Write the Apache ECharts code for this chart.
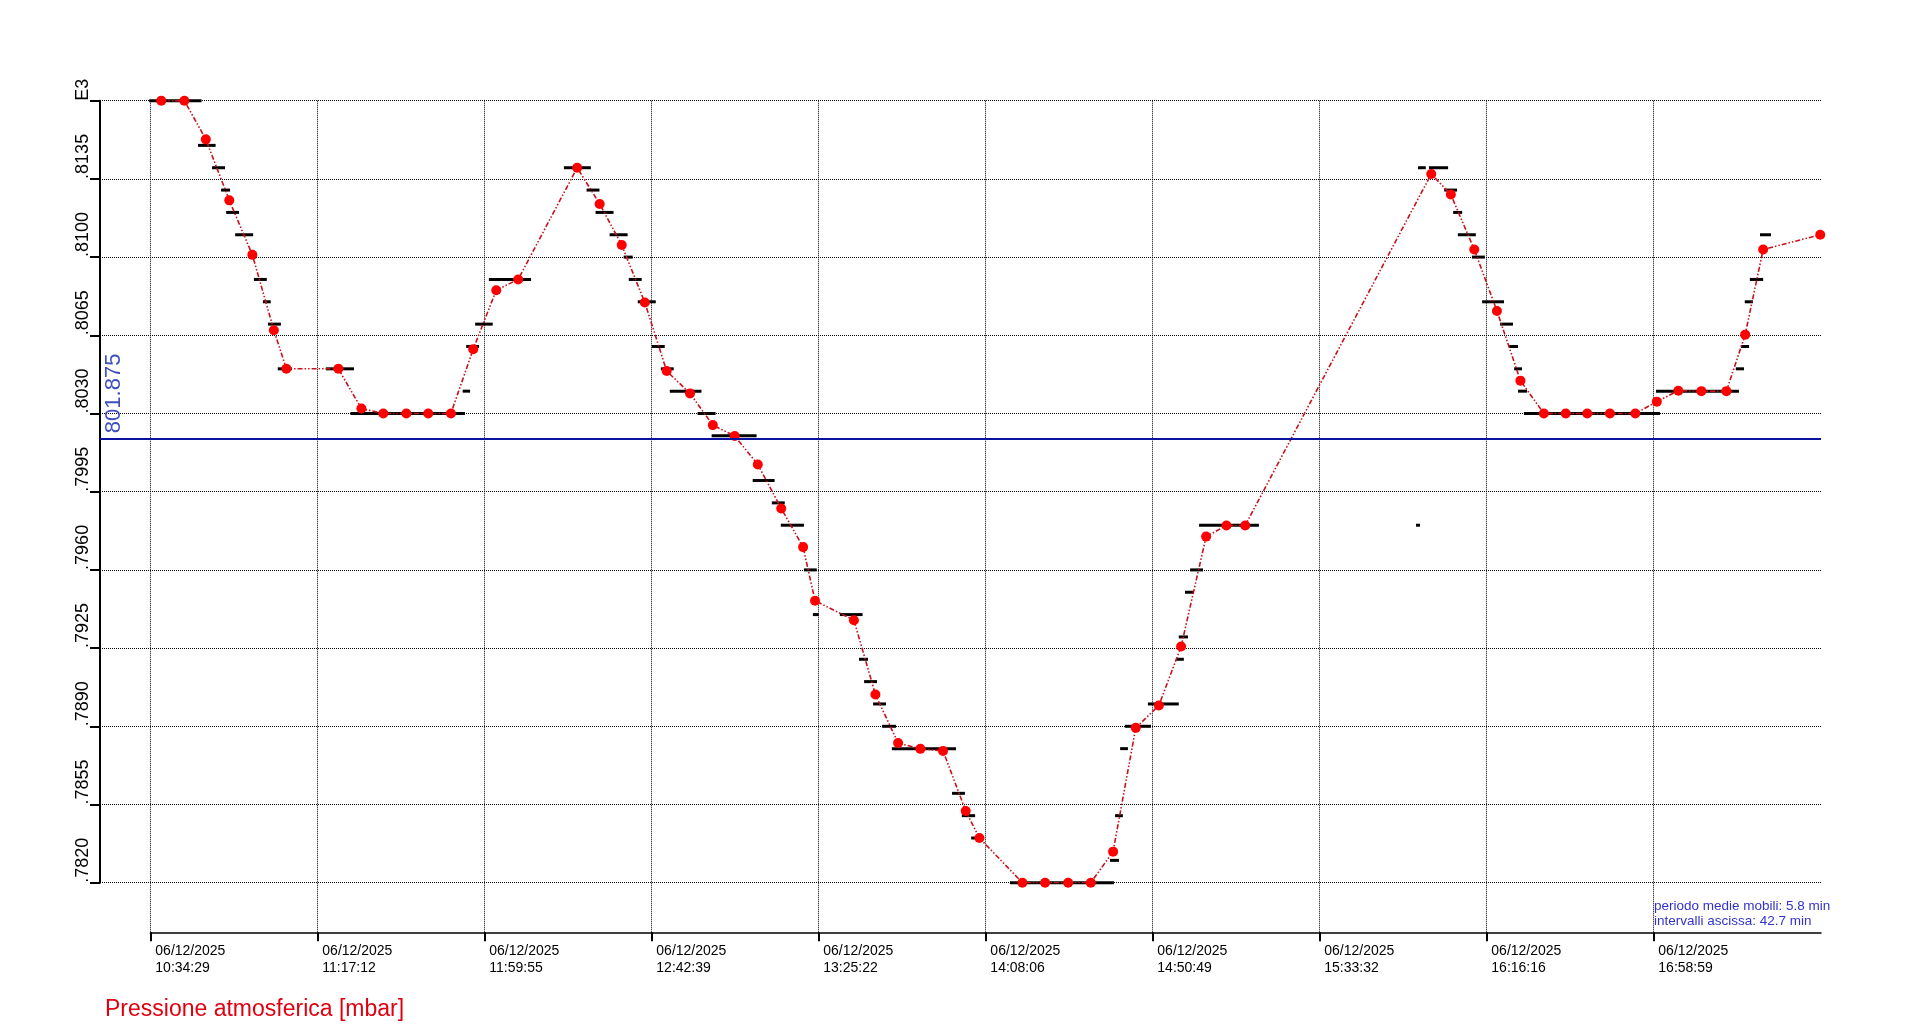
<!DOCTYPE html>
<html>
<head>
<meta charset="utf-8">
<script src="https://cdn.jsdelivr.net/npm/echarts@6/dist/echarts.min.js"></script>
<style>
html,body{margin:0;padding:0;background:#fff;}
#chart{width:1920px;height:1032px;}
</style>
</head>
<body>
<div id="chart"></div>
<script>
// ---------------- data ----------------
const chartDate = '06/12/2025';
const xTickLabels = ['10:34:29', '11:17:12', '11:59:55', '12:42:39', '13:25:22',
                     '14:08:06', '14:50:49', '15:33:32', '16:16:16', '16:58:59'];
const axisEndTime = '17:41:41';

const yTickValues = [782.0, 785.5, 789.0, 792.5, 796.0, 799.5, 803.0, 806.5, 810.0, 813.5, 817.0];
const yTickLabels = ['.7820', '.7855', '.7890', '.7925', '.7960', '.7995', '.8030', '.8065', '.8100', '.8135', 'E3'];

const referenceLevel = 801.875;

// moving averages (red points)
const meanTimes = [
  '10:37:17', '10:43:11', '10:48:41', '10:54:41', '11:00:35', '11:06:05', '11:09:17', '11:22:35',
  '11:28:29', '11:34:05', '11:39:59', '11:45:35', '11:51:23', '11:57:05', '12:02:59', '12:08:35',
  '12:23:41', '12:29:26', '12:35:05', '12:40:59', '12:46:35', '12:52:33', '12:58:23', '13:03:59',
  '13:09:53', '13:15:53', '13:21:29', '13:24:32', '13:34:29', '13:39:59', '13:45:47', '13:51:29',
  '13:57:17', '14:03:05', '14:06:35', '14:17:35', '14:23:23', '14:29:17', '14:35:05', '14:40:47',
  '14:46:35', '14:52:29', '14:58:11', '15:04:35', '15:09:47', '15:14:35', '16:02:11', '16:07:11',
  '16:13:11', '16:18:59', '16:24:59', '16:30:59', '16:36:35', '16:42:05', '16:47:53', '16:54:23',
  '16:59:53', '17:05:23', '17:11:17', '17:17:41', '17:22:29', '17:27:05', '17:41:41'
];
const meanValues = [
  817.0, 817.0, 815.27, 812.54, 810.1, 806.73, 805.0, 805.0,
  803.22, 803.0, 803.0, 803.0, 803.0, 805.88, 808.52, 809.0,
  814.0, 812.38, 810.54, 807.97, 804.9, 803.9, 802.48, 801.99,
  800.72, 798.75, 797.02, 794.62, 793.75, 790.42, 788.25, 787.99,
  787.9, 785.21, 784.0, 782.0, 782.0, 782.0, 782.0, 783.39,
  788.93, 789.93, 792.57, 797.49, 797.99, 797.99, 813.72, 812.8,
  810.34, 807.59, 804.47, 803.0, 803.0, 803.0, 803.0, 803.0,
  803.53, 804.02, 804.0, 804.0, 806.53, 810.34, 811.0
];

// raw readings held at a level (black dashes): start / end in minutes after 10:34:29
const rawStartMin = [
  -0.3, 12.2, 15.8, 18.1, 19.4, 21.7, 26.5, 28.8, 30.1, 32.6, 44.9, 51.2, 79.9, 80.8, 83.1, 86.6,
  105.8, 111.6, 113.9, 117.5, 121.1, 122.4, 124.7, 128.3, 130.6, 132.9, 140.0, 143.6, 154.1, 159.0,
  161.3, 167.2, 169.5, 176.4, 181.3, 182.6, 184.9, 187.2, 189.7, 205.1, 207.6, 210.0, 219.9, 245.5,
  246.8, 248.1, 249.3, 255.2, 262.4, 263.1, 264.7, 266.0, 268.3, 323.8, 324.3, 327.1, 331.0, 333.3,
  334.5, 338.1, 340.7, 345.3, 347.6, 348.9, 349.9, 351.4, 385.2, 405.6, 406.9, 407.9, 409.2, 411.8
];
const rawEndMin = [
  13.1, 16.7, 19.1, 20.4, 22.7, 26.3, 29.8, 30.8, 33.4, 36.2, 52.1, 80.5, 81.8, 84.1, 87.6, 97.4,
  112.7, 114.9, 118.5, 122.1, 123.4, 125.7, 129.3, 131.6, 133.9, 141.0, 144.6, 155.1, 159.7, 162.3,
  167.2, 170.5, 171.0, 182.2, 183.6, 185.9, 188.2, 190.75, 206.1, 208.4, 211.0, 213.3, 246.5, 247.8,
  248.8, 250.1, 256.0, 263.1, 264.4, 265.45, 267.0, 269.3, 283.6, 324.8, 326.3, 332.0, 334.3, 335.6,
  339.1, 341.4, 346.3, 348.6, 349.9, 350.9, 352.2, 386.2, 406.4, 407.7, 409.0, 410.0, 412.6, 414.6
];
const rawValues = [
  817, 815, 814, 813, 812, 811, 809, 808, 807, 805, 805, 803, 804, 806, 807, 809,
  814, 813, 812, 811, 810, 809, 808, 806, 805, 804, 803, 802, 800, 799,
  798, 796, 794, 794, 792, 791, 790, 789, 788, 786, 785, 784, 782, 783,
  785, 788, 789, 790, 792, 793, 795, 796, 798, 798, 814, 814, 813, 812,
  811, 810, 808, 807, 806, 805, 804, 803, 804, 805, 806, 808, 809, 811
];

const noteLines = ['periodo medie mobili: 5.8 min', 'intervalli ascissa: 42.7 min'];
const chartTitle = 'Pressione atmosferica [mbar]';

// ---------------- build ----------------
function toMs(hms) {
  const p = hms.split(':').map(Number);
  return ((p[0] * 60 + p[1]) * 60 + p[2]) * 1000;
}
const xTickMs = xTickLabels.map(toMs);
const baseMs = xTickMs[0];
const endMs = toMs(axisEndTime) + 12000;
const leadMs = 12.875 * 60000; // y-axis sits left of the first time tick

const meanData = meanTimes.map((t, i) => [toMs(t), meanValues[i]]);
const rawData = rawValues.map((v, i) => [baseMs + rawStartMin[i] * 60000, baseMs + rawEndMin[i] * 60000, v]);

const FONT = 'Arial, "Liberation Sans", sans-serif';
const dotted = { color: '#000', width: 1, type: [1, 1] };

const chart = echarts.init(document.getElementById('chart'));
chart.setOption({
  animation: false,
  backgroundColor: '#fff',
  grid: [
    { left: 100, right: 99, top: 100.7, bottom: 149.3 },
    { left: 150.33, right: 99, top: 100.7, bottom: 99.7 }
  ],
  xAxis: [
    { gridIndex: 0, type: 'value', min: baseMs - leadMs, max: endMs, show: false },
    {
      gridIndex: 1, type: 'value', min: baseMs, max: endMs,
      axisLine: { show: true, lineStyle: { color: '#000', width: 1.5 } },
      axisTick: { show: true, customValues: xTickMs, length: 9, lineStyle: { color: '#000', width: 2 } },
      axisLabel: {
        customValues: xTickMs, align: 'left', padding: [0, 0, 0, 5], margin: 10,
        fontFamily: FONT, fontSize: 14, lineHeight: 17, color: '#000',
        formatter: function (v) {
          const i = xTickMs.indexOf(v);
          return i >= 0 ? chartDate + '\n' + xTickLabels[i] : '';
        }
      },
      splitLine: { show: true, lineStyle: dotted }
    }
  ],
  yAxis: [
    {
      gridIndex: 0, type: 'value', min: 782, max: 817,
      axisLine: { show: true, lineStyle: { color: '#000', width: 2 } },
      axisTick: { show: true, customValues: yTickValues, length: 10, lineStyle: { color: '#000', width: 2 } },
      axisLabel: {
        customValues: yTickValues, rotate: 90, align: 'left', verticalAlign: 'bottom', margin: 8,
        fontFamily: FONT, fontSize: 18, color: '#000',
        formatter: function (v) {
          for (let i = 0; i < yTickValues.length; i++) {
            if (Math.abs(yTickValues[i] - v) < 1e-6) return yTickLabels[i];
          }
          return '';
        }
      },
      splitLine: { show: true, lineStyle: dotted }
    },
    { gridIndex: 1, type: 'value', min: 0, max: 1, show: false }
  ],
  series: [
    {
      name: 'letture',
      type: 'custom',
      xAxisIndex: 0, yAxisIndex: 0,
      z: 2,
      encode: { x: [0, 1], y: 2 },
      data: rawData,
      renderItem: function (params, api) {
        const p1 = api.coord([api.value(0), api.value(2)]);
        const p2 = api.coord([api.value(1), api.value(2)]);
        return {
          type: 'rect',
          shape: { x: p1[0], y: p1[1] - 1.5, width: Math.max(p2[0] - p1[0], 1), height: 3 },
          style: { fill: '#000' }
        };
      },
      markLine: {
        silent: true, symbol: 'none',
        label: { show: false },
        lineStyle: { color: '#0a12a0', width: 2, type: 'solid' },
        data: [{ yAxis: referenceLevel }]
      }
    },
    {
      name: 'medie mobili',
      type: 'line',
      xAxisIndex: 0, yAxisIndex: 0,
      z: 3,
      data: meanData,
      symbol: 'circle', symbolSize: 10, showAllSymbol: true,
      itemStyle: { color: '#ff0000' },
      lineStyle: { color: '#c8101a', width: 1.6, type: [5, 2, 1.5, 2, 1.5, 2] }
    },
    {
      name: 'livello',
      type: 'scatter',
      xAxisIndex: 0, yAxisIndex: 0,
      z: 4,
      silent: true,
      symbolSize: 1,
      itemStyle: { color: 'rgba(0,0,0,0)' },
      data: [[baseMs - leadMs, referenceLevel]],
      label: {
        show: true, formatter: String(referenceLevel), rotate: 90,
        position: [3, -5], align: 'left', verticalAlign: 'top',
        fontFamily: FONT, fontSize: 22, color: '#0c22b0'
      }
    }
  ],
  graphic: [
    {
      type: 'text', left: 105, top: 998,
      style: { text: chartTitle, font: '23px ' + FONT, fill: '#e00010' }
    },
    {
      type: 'text', left: 1654, top: 898,
      style: { text: noteLines.join('\n'), font: '13.5px ' + FONT, lineHeight: 15.6, fill: '#3333cc' }
    }
  ]
});
</script>
</body>
</html>
